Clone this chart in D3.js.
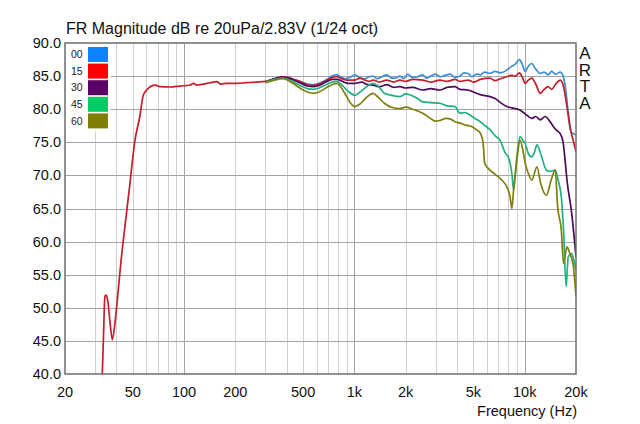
<!DOCTYPE html>
<html><head><meta charset="utf-8">
<script src="https://cdn.jsdelivr.net/npm/d3@7"></script>
<style>html,body{margin:0;padding:0;background:#fff;}svg{display:block;font-family:Arial,"Liberation Sans",sans-serif;}</style>
</head><body><svg id="c" width="640" height="424"></svg>
<script>
const title = "FR Magnitude dB re 20uPa/2.83V (1/24 oct)";
const xLabel = "Frequency (Hz)";
const sideLabel = "ARTA";
const yTicks = [40,45,50,55,60,65,70,75,80,85,90];
const xTickVals = [20,50,100,200,500,1000,2000,5000,10000,20000];
const xTickLabels = ["20","50","100","200","500","1k","2k","5k","10k","20k"];
const seriesNames = ["00","15","30","45","60"];
const swatchColors = ["#0a84ff","#ff0000","#5a0066","#00cc66","#808000"];
const lineColors = ["#3a8ed6","#c41e2a","#4e0a5c","#1fb27e","#7f7f10"];

const s00 = [[300,84.1],[340,84.6],[382,84.9],[430,84.6],[478,84.2],[530,83.8],[572,83.7],[620,83.9],[680,84.4],[740,85.0],[790,85.2],[830,84.9],[880,84.6],[940,84.8],[1008,85.2],[1080,84.7],[1150,84.6],[1220,84.9],[1288,85.0],[1360,84.6],[1450,84.9],[1550,85.2],[1650,84.7],[1750,84.7],[1850,85.0],[1950,84.6],[2050,85.3],[2200,84.8],[2350,84.9],[2520,85.2],[2650,84.7],[2800,85.0],[3000,85.3],[3180,84.9],[3400,85.1],[3650,85.3],[3900,84.8],[4160,85.0],[4400,85.5],[4650,85.4],[4900,84.9],[5200,85.3],[5500,85.2],[5800,85.6],[6250,85.4],[6700,85.7],[7200,85.5],[7840,85.9],[8300,86.4],[8800,86.8],[9300,87.5],[9700,86.7],[10060,85.7],[10500,86.5],[11000,86.9],[11500,86.2],[12340,85.4],[13000,85.6],[13700,85.2],[14400,85.7],[15200,85.3],[16150,85.6],[16800,85.0],[17300,83.4],[18040,79.4],[18870,76.4],[19400,76.3],[20000,76.1]];
const s15 = [[33.1,40],[33.6,45.1],[34.3,51.7],[34.7,51.9],[35.6,51.2],[36.8,47.7],[37.9,45.2],[39.3,47.7],[41.1,52.7],[42.7,57.2],[44,60.2],[47.5,67.5],[51.5,75.3],[55,78.9],[57.6,82.1],[60.3,82.9],[67.6,83.65],[72,83.4],[82.8,83.35],[94.6,83.5],[108.6,83.65],[113.6,83.9],[118.6,83.65],[129.9,83.8],[142.6,84.0],[156.3,84.16],[163.4,83.8],[178.9,83.9],[203,83.9],[233,84.0],[267,84.1],[300,84.2],[340,84.6],[382,84.9],[430,84.6],[478,84.2],[530,83.7],[572,83.6],[620,83.8],[680,84.3],[740,84.8],[790,84.9],[840,84.6],[900,84.4],[1008,84.4],[1080,84.7],[1150,84.4],[1220,84.2],[1288,84.4],[1400,84.1],[1550,84.4],[1700,84.1],[1850,84.4],[2000,84.2],[2200,84.5],[2520,84.4],[2800,84.1],[3180,84.4],[3500,84.2],[3900,84.5],[4160,84.2],[4650,84.4],[5000,84.1],[5480,84.5],[6250,84.7],[6700,84.3],[7200,84.6],[7840,84.9],[8400,85.1],[8800,85.0],[9300,85.5],[9700,84.8],[10060,83.9],[10500,84.4],[11000,84.7],[11600,83.8],[12340,82.4],[13000,83.0],[13700,83.4],[14400,83.0],[15200,83.8],[16150,84.4],[16800,83.65],[17700,80.4],[18400,77.4],[19200,75.4],[20000,73.6]];
const s30 = [[300,84.1],[340,84.6],[382,84.85],[430,84.5],[478,84.0],[530,83.5],[572,83.4],[620,83.6],[680,84.1],[740,84.5],[790,84.5],[850,84.2],[920,83.9],[1008,83.9],[1100,84.1],[1200,83.7],[1288,83.65],[1400,83.4],[1550,83.7],[1700,83.3],[1852,83.4],[2000,83.2],[2200,83.3],[2520,82.9],[2800,83.1],[3180,82.9],[3500,83.3],[3900,83.4],[4160,83.0],[4650,82.9],[5000,82.6],[5480,82.2],[6250,81.9],[6700,81.6],[7200,81.0],[7840,80.4],[8400,80.2],[9300,79.9],[10060,79.3],[11000,78.6],[11600,78.9],[12340,78.4],[13200,78.9],[14000,78.2],[14700,77.4],[15400,76.8],[16150,76.3],[16800,75.0],[17300,72.0],[17700,69.3],[18870,64.3],[19700,59.5],[20000,57.7]];
const s45 = [[300,84.1],[340,84.5],[382,84.7],[430,84.2],[478,83.6],[530,83.1],[572,83.0],[620,83.2],[680,83.7],[740,84.1],[790,84.2],[850,83.6],[920,82.7],[1008,82.1],[1080,82.6],[1180,83.4],[1288,83.9],[1400,83.3],[1500,82.4],[1650,82.1],[1852,81.9],[2000,82.3],[2150,82.1],[2350,81.6],[2520,81.1],[2800,81.0],[3180,80.9],[3500,80.5],[3900,80.4],[4160,79.4],[4450,79.5],[4780,79.1],[5100,78.6],[5480,78.1],[5800,77.6],[6250,76.9],[6700,76.0],[7170,75.3],[7680,73.4],[8000,72.8],[8400,70.3],[8600,67.8],[8800,70.0],[9100,74.0],[9400,75.85],[9800,75.2],[10060,74.85],[10500,73.3],[11000,72.8],[11400,73.5],[11800,74.6],[12400,73.3],[13400,70.8],[14000,70.6],[15100,70.8],[15700,69.3],[16400,66.8],[16900,61.75],[17500,53.2],[18000,57.7],[18870,58.2],[19500,57.0],[20000,55.7]];
const s60 = [[300,84.0],[340,84.4],[382,84.6],[430,84.0],[478,83.2],[530,82.6],[572,82.4],[620,82.6],[680,83.2],[740,83.7],[790,83.9],[840,83.2],[900,81.9],[950,80.9],[1008,80.4],[1080,80.8],[1180,81.8],[1288,82.4],[1380,81.8],[1500,80.9],[1650,80.3],[1852,80.1],[2000,80.3],[2200,80.0],[2520,79.4],[2800,78.6],[3000,78.2],[3180,78.3],[3450,78.6],[3670,78.5],[3900,78.1],[4160,77.9],[4500,77.6],[4870,77.4],[5200,76.9],[5480,76.4],[5700,74.85],[5820,71.85],[6250,70.8],[6990,69.8],[7400,69.2],[7840,68.3],[8200,66.8],[8400,65.0],[8600,67.8],[9000,72.5],[9400,75.3],[9800,73.5],[10060,71.85],[10500,70.3],[11000,69.3],[11800,71.3],[12400,68.8],[13400,67.0],[14300,69.3],[15100,70.8],[15600,65.3],[16400,61.75],[16900,56.7],[17700,59.2],[18400,58.2],[19200,56.7],[20000,51.7]];
const seriesData = [s00, s15, s30, s45, s60];

const svg = d3.select("#c");
const L = 65, R = 576, T = 43, B = 374;
const x = d3.scaleLog().domain([20,20000]).range([L,R]);
const y = d3.scaleLinear().domain([40,90]).range([B,T]);

// grid
const gridF = x.ticks().filter(f => f > 20 && f < 20000);
svg.append("g").selectAll("line").data(gridF).join("line")
  .attr("x1", d => Math.round(x(d))+0.5).attr("x2", d => Math.round(x(d))+0.5)
  .attr("y1", T).attr("y2", B)
  .attr("stroke", d => [100,1000,10000].includes(d) ? "#a4a4a4" : "#cfcfcf")
  .attr("stroke-width", 1);
svg.append("g").selectAll("line").data(yTicks.slice(1,-1)).join("line")
  .attr("x1", L).attr("x2", R)
  .attr("y1", d => Math.round(y(d))+0.5).attr("y2", d => Math.round(y(d))+0.5)
  .attr("stroke", "#a4a4a4").attr("stroke-width", 1);

// curves
svg.append("clipPath").attr("id","clip").append("rect")
  .attr("x", L).attr("y", T).attr("width", R-L).attr("height", B-T);
const line = d3.line().x(d => x(d[0])).y(d => y(d[1])).curve(d3.curveMonotoneX);
svg.append("g").attr("clip-path","url(#clip)").selectAll("path").data(seriesData).join("path")
  .attr("d", line).attr("fill","none")
  .attr("stroke", (d,i) => lineColors[i]).attr("stroke-width", 1.7)
  .attr("stroke-linejoin","round");

// legend
const lg = svg.append("g");
lg.append("rect").attr("x", L+0.5).attr("y", T+0.5).attr("width", 45).attr("height", 88).attr("fill","#fff");
seriesNames.forEach((n,i) => {
  const yy = 47 + i*16.6;
  lg.append("rect").attr("x", 88).attr("y", yy).attr("width", 20).attr("height", 15).attr("fill", swatchColors[i]);
  lg.append("text").attr("x", 71).attr("y", yy+7.5).attr("dy","0.35em")
    .attr("font-size", 10.5).attr("fill","#222").text(n);
});

// frame
svg.append("rect").attr("x", L).attr("y", T).attr("width", R-L).attr("height", B-T)
  .attr("fill","none").attr("stroke","#6e6e6e").attr("stroke-width",1.5);

// axis labels
svg.append("g").selectAll("text").data(yTicks).join("text")
  .attr("x", 61).attr("y", d => y(d)).attr("dy","0.35em").attr("text-anchor","end")
  .attr("font-size", 14.5).attr("fill","#111").text(d => d.toFixed(1));
svg.append("g").selectAll("text").data(xTickVals).join("text")
  .attr("x", d => x(d)).attr("y", 392).attr("dy","0.35em").attr("text-anchor","middle")
  .attr("font-size", 14.5).attr("fill","#111").text((d,i) => xTickLabels[i]);
svg.append("text").attr("x", 577).attr("y", 411).attr("dy","0.35em").attr("text-anchor","end")
  .attr("font-size", 14.5).attr("fill","#111").text(xLabel);
svg.append("text").attr("x", 66).attr("y", 34).attr("font-size", 16).attr("fill","#111").text(title);
svg.append("text").attr("x", 585).attr("y", 44)
  .style("writing-mode","vertical-rl").style("text-orientation","upright")
  .attr("letter-spacing", -2.3)
  .attr("font-size", 17).attr("fill","#111").text(sideLabel);
</script></body></html>
